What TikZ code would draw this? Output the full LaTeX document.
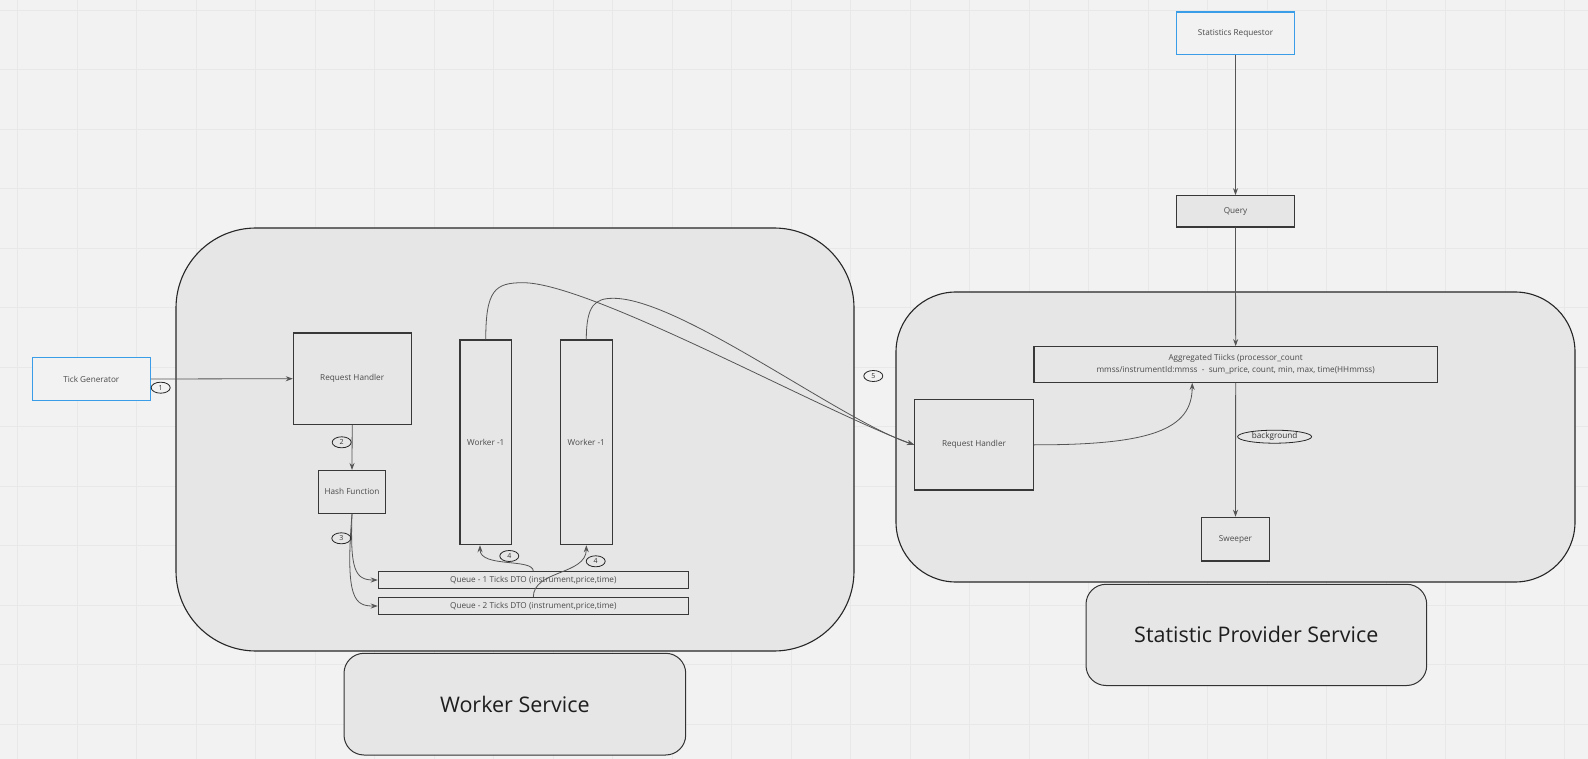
\documentclass[tikz,border=0pt]{standalone}
\usepackage{fontspec}
\setmainfont{Open Sans}
\usetikzlibrary{arrows.meta,shapes.geometric}
\definecolor{bg}{HTML}{F2F2F2}
\definecolor{gridc}{HTML}{E8E8E8}
\definecolor{boxfill}{HTML}{E6E6E6}
\definecolor{blueb}{HTML}{3A9DE8}
\definecolor{edgec}{HTML}{383838}
\definecolor{txt}{HTML}{4A4A4A}
\definecolor{connc}{HTML}{555555}
\definecolor{bigtxt}{HTML}{1E1E1E}
\begin{document}
\begin{tikzpicture}[x=1pt,y=-1pt,
  box/.style={draw=edgec, line width=1.1pt, fill=boxfill, inner sep=0pt, font=\fontsize{8.2}{10}\selectfont, text=txt},
  bluebox/.style={draw=blueb, line width=1.1pt, fill=bg, inner sep=0pt, font=\fontsize{8.2}{10}\selectfont, text=txt},
  lbl/.style={ellipse, draw=black!85, line width=0.8pt, inner sep=0pt, minimum width=19pt, minimum height=11pt, font=\fontsize{7}{7}\selectfont, text=black!80},
  conn/.style={draw=connc, line width=0.8pt, -{Stealth[length=7pt,width=5pt]}},
  container/.style={draw=black!85, line width=1.1pt, fill=boxfill},
  biglabel/.style={draw=black!80, line width=1pt, fill=boxfill, rounded corners=20pt, inner sep=0pt, font=\fontsize{21.5}{26}\selectfont, text=bigtxt},
]
\useasboundingbox (0,0) rectangle (1588,759);
\fill[bg] (0,0) rectangle (1588,759);
\foreach \gx in {17.5,77,...,1588} \draw[gridc, line width=0.9pt] (\gx,0) -- (\gx,759);
\foreach \gy in {10,69.5,...,759} \draw[gridc, line width=0.9pt] (0,\gy) -- (1588,\gy);

% containers
\draw[container, rounded corners=80pt] (176,228) rectangle (854,651);
\draw[container, rounded corners=60pt] (896,292) rectangle (1575,582);

% service labels
\node[biglabel, minimum width=341.7pt, minimum height=101.7pt] (wslabel) at (514.85,704.15) {Worker Service};
\node[biglabel, minimum width=340.7pt, minimum height=101.2pt] (spslabel) at (1256.35,634.9) {Statistic Provider Service};

% worker service
\node[bluebox, minimum width=118pt, minimum height=42.6pt] (tick) at (91.3,379) {Tick Generator};
\node[box, minimum width=117.7pt, minimum height=91.3pt] (rh1) at (352.2,378.7) {Request Handler};
\node[box, minimum width=67.4pt, minimum height=42.8pt] (hash) at (352,491.9) {Hash Function};
\node[box, minimum width=51.5pt, minimum height=204.7pt] (w1) at (485.75,442.35) {Worker -1};
\node[box, minimum width=52pt, minimum height=204.7pt] (w2) at (586.3,442.35) {Worker -1};
\node[box, minimum width=310pt, minimum height=16.6pt] (q1) at (533.3,580) {Queue - 1 Ticks DTO (instrument,price,time)};
\node[box, minimum width=310pt, minimum height=16.6pt] (q2) at (533.3,606) {Queue - 2 Ticks DTO (instrument,price,time)};

% statistic provider
\node[bluebox, minimum width=117.6pt, minimum height=42.3pt] (req) at (1235.5,33.15) {Statistics Requestor};
\node[box, minimum width=117.6pt, minimum height=31.3pt] (query) at (1235.5,211.35) {Query};
\node[box, minimum width=118.6pt, minimum height=90.3pt] (rh2) at (974,444.85) {Request Handler};
\node[box, minimum width=403.3pt, minimum height=35.6pt, align=center, font=\fontsize{8.2}{12.3}\selectfont] (agg) at (1235.65,364.5) {Aggregated Tiicks (processor\_count\\mmss/instrumentId:mmss~~-~~sum\_price, count, min, max, time(HHmmss)};
\node[box, minimum width=67.3pt, minimum height=43.7pt] (sweeper) at (1235.5,539.15) {Sweeper};

% connectors
\draw[conn] (tick.east) -- (rh1.west);
\draw[conn] (rh1.south) -- (hash.north);
\draw[conn] (hash.south) .. controls (350,570) and (355,580) .. (q1.west);
\draw[conn] (hash.south) .. controls (345,600) and (355,606) .. (q2.west);
\draw[conn] (q1.north) .. controls (533.3,558) and (480,568) .. ([xshift=-5.75pt]w1.south);
\draw[conn] (q2.north) .. controls (533.3,570) and (586.3,575) .. (w2.south);
\draw[conn] (w1.north) .. controls (485.75,290) and (495,282.7) .. (523,282.7) .. controls (590,282.7) and (820,410) .. (rh2.west);
\draw[conn] (w2.north) .. controls (586.3,305) and (595,298.3) .. (613.3,298.3) .. controls (680,298.3) and (840,420) .. (rh2.west);
\draw[conn] (rh2.east) .. controls (1150,445) and (1192.2,430) .. ([xshift=-43.45pt]agg.south);
\draw[conn] (req.south) -- (query.north);
\draw[conn] (query.south) -- (agg.north);
\draw[conn] (agg.south) -- (sweeper.north);

% step labels
\node[lbl] (s1) at (160.7,387.7) {1};
\node[lbl] (s2) at (341.7,442.3) {2};
\node[lbl] (s3) at (341.3,538.3) {3};
\node[lbl] (s4a) at (509.3,556) {4};
\node[lbl] (s4b) at (595.7,561.3) {4};
\node[lbl] (s5) at (873.3,376) {5};
\node[lbl, minimum width=74pt, minimum height=13pt, font=\fontsize{8.2}{9}\selectfont] (bgl) at (1274.6,436.7) {background};
\end{tikzpicture}
\end{document}
